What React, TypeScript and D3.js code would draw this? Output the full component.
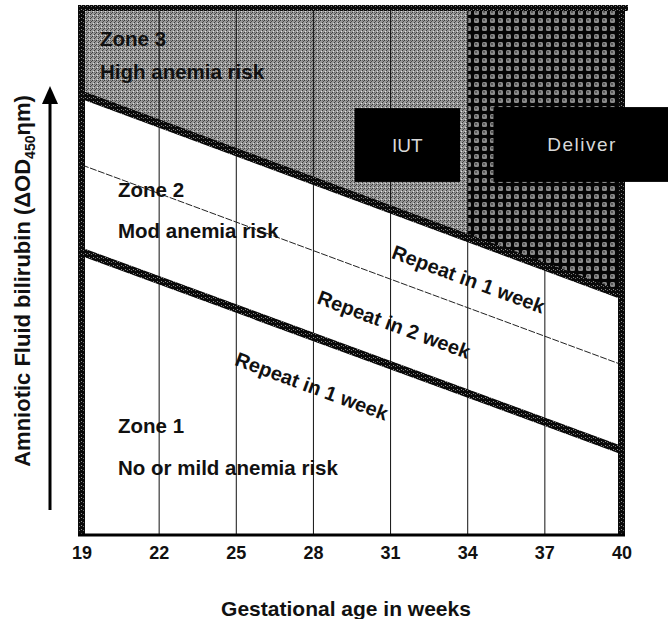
import * as d3 from 'd3'

// x axis: gestational age (weeks)
const weekTicks = [19, 22, 25, 28, 31, 34, 37, 40]
const gridWeeks = [22, 25, 28, 31, 34, 37]
const weekRange = [19, 40]

// boundary lines, value at 19 and at 40 weeks (relative ΔOD450 scale, 0–100)
const upperLine = [83.5, 45.5] // zone 3 / zone 2
const midLine = [70.2, 32.3] // repeat in 1 week / repeat in 2 week
const lowerLine = [53.7, 16.1] // zone 2 / zone 1

// action boxes: [fromWeek, toWeek, topValue, bottomValue]
const iutBox = [29.6, 33.7, 81, 67]
const deliverBox = [35, 41.8, 81.2, 67]
const deliverFrom = 34

// zone labels: [week, value, text]
const zoneLabels: [number, number, string][] = [
  [19.7, 92.8, 'Zone 3'],
  [19.7, 86.5, 'High anemia risk'],
  [20.4, 64.1, 'Zone 2'],
  [20.4, 56.4, 'Mod anemia risk'],
  [20.4, 19.4, 'Zone 1'],
  [20.4, 11.4, 'No or mild anemia risk'],
]
const repeatLabels: [number, number, string][] = [
  [31.0, 52.6, 'Repeat in 1 week'],
  [28.1, 44.0, 'Repeat in 2 week'],
  [24.9, 32.3, 'Repeat in 1 week'],
]

const W = 668
const H = 619
const margin = { top: 8, right: 46, bottom: 84, left: 82 }
const font = "'Liberation Sans', Arial, Helvetica, sans-serif"

export default function App() {
  const x = d3.scaleLinear().domain(weekRange).range([margin.left, W - margin.right])
  const y = d3.scaleLinear().domain([0, 100]).range([H - margin.bottom, margin.top])

  const at = (ln: number[], w: number) => ln[0] + ((ln[1] - ln[0]) * (w - weekRange[0])) / (weekRange[1] - weekRange[0])
  const line = d3.line<[number, number]>().x(d => x(d[0])).y(d => y(d[1]))
  const seg = (ln: number[]) => line([[weekRange[0], ln[0]], [weekRange[1], ln[1]]])

  const topRegion = line([
    [weekRange[0], 100], [weekRange[1], 100], [weekRange[1], upperLine[1]], [weekRange[0], upperLine[0]],
  ]) + 'Z'
  const deliverRegion = line([
    [deliverFrom, 100], [weekRange[1], 100], [weekRange[1], upperLine[1]], [deliverFrom, at(upperLine, deliverFrom)],
  ]) + 'Z'

  const angle = (Math.atan2(y(upperLine[1]) - y(upperLine[0]), x(weekRange[1]) - x(weekRange[0])) * 180) / Math.PI

  const x0 = x(weekRange[0])
  const x1 = x(weekRange[1])
  const yTop = y(100)
  const yBot = y(0)

  return (
    <svg width={W} height={H} style={{ position: 'absolute', left: 0, top: 0, background: '#fff' }}>
      <defs>
        <pattern id="grayDots" width="4" height="4" patternUnits="userSpaceOnUse">
          <rect width="4" height="4" fill="#9a9a9a" />
          <rect x="0" y="0" width="1" height="1" fill="#3a3a3a" />
          <rect x="2" y="2" width="1" height="1" fill="#3a3a3a" />
          <rect x="1" y="3" width="1" height="1" fill="#e0e0e0" />
          <rect x="3" y="1" width="1" height="1" fill="#4a4a4a" />
          <rect x="2" y="0" width="1" height="1" fill="#666" />
        </pattern>
        <pattern id="checker" width="8" height="8" patternUnits="userSpaceOnUse">
          <rect width="8" height="8" fill="#050505" />
          <rect x="2" y="2" width="5" height="5" rx="1.5" fill="#8a8a8a" />
          <rect x="3" y="3" width="2" height="2" fill="#5a5a5a" />
        </pattern>
        <pattern id="band" width="4" height="4" patternUnits="userSpaceOnUse">
          <rect width="4" height="4" fill="#0a0a0a" />
          <rect x="1" y="1" width="1" height="1" fill="#8c8c8c" />
          <rect x="3" y="2" width="1" height="1" fill="#6e6e6e" />
        </pattern>
      </defs>

      {/* zone 3 fill */}
      <path d={topRegion} fill="url(#grayDots)" />
      <path d={deliverRegion} fill="url(#checker)" />

      {/* grid */}
      {gridWeeks.map(w => (
        <line key={w} x1={x(w)} x2={x(w)} y1={yTop} y2={yBot} stroke="#111" strokeWidth={1} />
      ))}

      {/* boundary lines */}
      <path d={seg(midLine) ?? ''} fill="none" stroke="#222" strokeWidth={1} strokeDasharray="7,1.5" />
      <path d={seg(upperLine) ?? ''} fill="none" stroke="url(#band)" strokeWidth={8} />
      <path d={seg(lowerLine) ?? ''} fill="none" stroke="url(#band)" strokeWidth={8} />

      {/* frame */}
      <rect x={x0 - 4} y={yTop - 3} width={x1 - x0 + 10} height={6} fill="url(#band)" />
      <rect x={x0 - 4} y={yTop - 3} width={7} height={yBot - yTop + 3} fill="url(#band)" />
      <rect x={x1 - 4} y={yTop - 3} width={7} height={yBot - yTop + 3} fill="url(#band)" />
      <line x1={x0 - 4} x2={x1 + 3} y1={yBot} y2={yBot} stroke="#000" strokeWidth={3} />

      {/* action boxes */}
      <rect x={x(iutBox[0])} y={y(iutBox[2])} width={x(iutBox[1]) - x(iutBox[0])} height={y(iutBox[3]) - y(iutBox[2])} fill="#000" />
      <text x={(x(iutBox[0]) + x(iutBox[1])) / 2} y={(y(iutBox[2]) + y(iutBox[3])) / 2 + 7} textAnchor="middle"
        fill="#d8d8d8" fontFamily={font} fontSize={19}>IUT</text>
      <rect x={x(deliverBox[0])} y={y(deliverBox[2])} width={x(deliverBox[1]) - x(deliverBox[0])} height={y(deliverBox[3]) - y(deliverBox[2])} fill="#000" />
      <text x={582} y={(y(deliverBox[2]) + y(deliverBox[3])) / 2 + 7} textAnchor="middle"
        fill="#d8d8d8" fontFamily={font} fontSize={19} letterSpacing={1.5}>Deliver</text>

      {/* zone labels */}
      {zoneLabels.map(([w, v, t], i) => (
        <text key={i} x={x(w)} y={y(v)} fontFamily={font} fontWeight="bold" fontSize={20.5} fill="#111">{t}</text>
      ))}
      {repeatLabels.map(([w, v, t], i) => (
        <text key={i} transform={`translate(${x(w)},${y(v)}) rotate(${angle})`} fontFamily={font}
          fontWeight="bold" fontSize={20} fill="#111">{t}</text>
      ))}

      {/* x ticks */}
      {weekTicks.map(w => (
        <text key={w} x={x(w)} y={559} textAnchor="middle" fontFamily={font} fontWeight="bold" fontSize={18} fill="#111">{w}</text>
      ))}
      <text x={(x0 + x1) / 2 - 6} y={616} textAnchor="middle" fontFamily={font} fontWeight="bold" fontSize={21} fill="#111">
        Gestational age in weeks
      </text>

      {/* y axis arrow + label */}
      <line x1={50} x2={50} y1={510} y2={100} stroke="#000" strokeWidth={3} />
      <path d="M50,86 L42,104 L58,104 Z" fill="#000" />
      <text transform="translate(30,281) rotate(-90)" textAnchor="middle" fontFamily={font} fontWeight="bold" fontSize={22} fill="#111">
        Amniotic Fluid bilirubin (ΔOD<tspan fontSize={14} dy={5}>450</tspan><tspan dy={-5}>ηm)</tspan>
      </text>
    </svg>
  )
}
